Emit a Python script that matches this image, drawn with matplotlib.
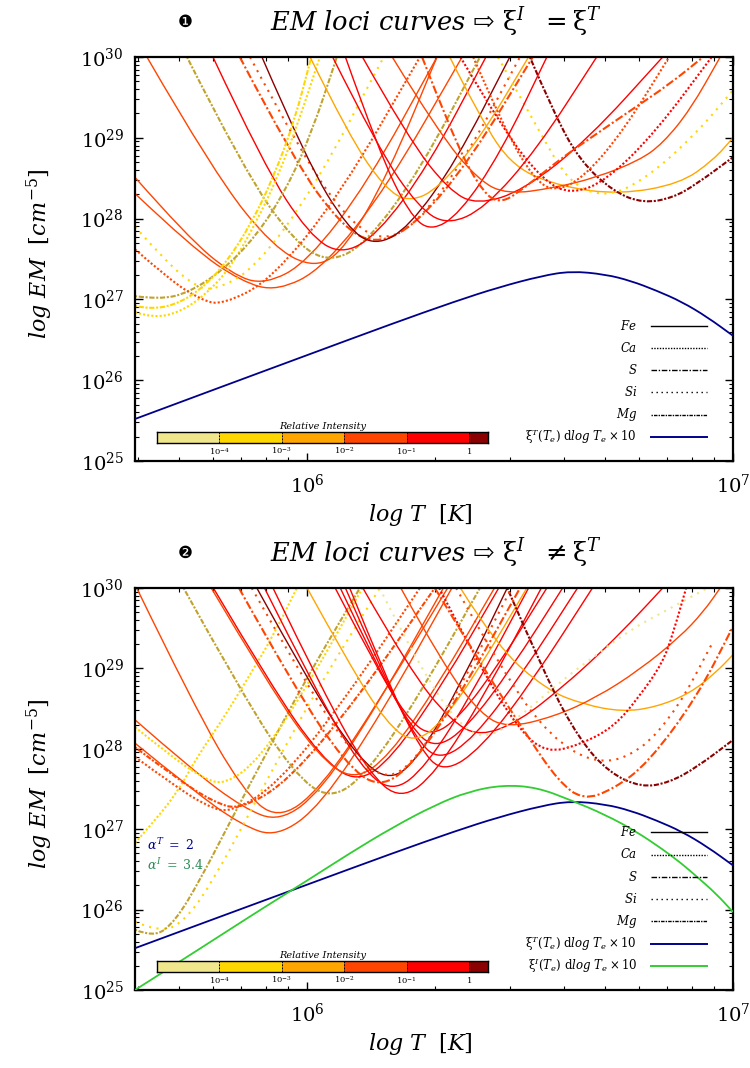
import matplotlib
matplotlib.use("Agg")
import matplotlib.pyplot as plt
import numpy as np
from matplotlib.patches import PathPatch
from matplotlib.path import Path
from matplotlib.ticker import LogLocator, NullFormatter

plt.rcParams["font.family"] = ["DejaVu Serif", "DejaVu Sans"]
plt.rcParams["mathtext.fontset"] = "dejavuserif"

# intensity bins of the colour bar (relative intensity), last extra colour = olive lines
bin_edges = [1e-5, 1e-4, 1e-3, 1e-2, 1e-1, 1.0, 2.0]
bin_colors = ["#F0E68C", "#FFD700", "#FFA500", "#FF4500", "#FF0000", "#8B0000", "#BFA32E"]
bin_labels = [r"$\mathit{10^{-4}}$", r"$\mathit{10^{-3}}$", r"$\mathit{10^{-2}}$",
              r"$\mathit{10^{-1}}$", r"$\mathit{1}$"]

elements = ["Fe", "Ca", "S", "Si", "Mg"]

# ---- panel 1: xi^I = xi^T  (log T, log EM, element, intensity bin)
top_logT = [
    [5.624, 5.782, 5.921, 6.02, 6.091, 6.191, 6.305],
    [5.596, 5.718, 5.824, 5.90, 6.001, 6.143, 6.305],
    [5.596, 5.73, 5.846, 5.93, 6.039, 6.19, 6.364],
    [5.718, 5.852, 5.97, 6.054, 6.142, 6.265, 6.406],
    [5.779, 5.899, 6.005, 6.08, 6.165, 6.284, 6.42],
    [5.842, 5.969, 6.081, 6.16, 6.253, 6.382, 6.53],
    [5.866, 5.992, 6.102, 6.18, 6.26, 6.372, 6.50],
    [5.894, 6.0, 6.094, 6.16, 6.239, 6.35, 6.476],
    [5.596, 5.64, 5.70, 5.76, 5.82, 5.88, 5.93, 5.98, 6.03],
    [5.596, 5.655, 5.72, 5.80, 5.88, 5.95, 6.01, 6.07],
    [5.596, 5.67, 5.734, 5.78, 5.88, 6.02, 6.18],
    [5.596, 5.678, 5.749, 5.80, 5.916, 6.079, 6.265],
    [5.596, 5.63, 5.69, 5.75, 5.81, 5.87, 5.92, 5.97, 6.01],
    [6.007, 6.10, 6.182, 6.24, 6.31, 6.408, 6.52],
    [6.335, 6.406, 6.484, 6.60, 6.734, 6.875, 6.953, 7.0],
    [6.523, 6.58, 6.64, 6.72, 6.79, 6.86, 6.915, 7.0],
    [6.448, 6.547, 6.617, 6.704, 6.80, 6.915, 7.0],
    [6.39, 6.466, 6.532, 6.58, 6.648, 6.742, 6.85],
    [6.13, 6.238, 6.333, 6.40, 6.509, 6.661, 6.835],
    [6.06, 6.168, 6.263, 6.33, 6.418, 6.54, 6.68],
    [6.09, 6.17, 6.24, 6.29, 6.358, 6.454, 6.563],
    [6.20, 6.308, 6.403, 6.47, 6.58, 6.68, 6.78, 6.835, 6.90, 6.97],
    [6.27, 6.34, 6.40, 6.45, 6.52, 6.60, 6.68, 6.76, 6.85, 6.93],
    [6.36, 6.464, 6.555, 6.62, 6.703, 6.818, 6.95],
]
top_logEM = [
    [30.0, 28.56, 27.64, 27.38, 27.64, 28.56, 30.0],
    [28.51, 27.78, 27.31, 27.18, 27.46, 28.45, 30.0],
    [28.31, 27.64, 27.22, 27.10, 27.39, 28.41, 30.0],
    [30.0, 28.6, 27.71, 27.45, 27.71, 28.6, 30.0],
    [30.0, 28.65, 27.8, 27.55, 27.8, 28.65, 30.0],
    [30.0, 28.72, 27.91, 27.68, 27.91, 28.72, 30.0],
    [30.0, 28.75, 27.95, 27.72, 27.95, 28.75, 30.0],
    [30.0, 28.71, 27.89, 27.66, 27.89, 28.71, 30.0],
    [26.84, 26.77, 26.84, 27.05, 27.39, 27.95, 28.5, 29.2, 30.0],
    [27.04, 27.0, 27.08, 27.35, 27.78, 28.35, 29.05, 30.0],
    [27.9, 27.46, 27.18, 27.1, 27.39, 28.41, 30.0],
    [27.62, 27.24, 27.0, 26.93, 27.24, 28.31, 30.0],
    [26.92, 26.88, 26.93, 27.12, 27.45, 27.95, 28.5, 29.2, 30.0],
    [30.0, 29.01, 28.38, 28.2, 28.38, 29.01, 30.0],
    [30.0, 29.25, 28.63, 28.39, 28.30, 28.43, 28.72, 29.0],
    [30.0, 29.3, 28.72, 28.33, 28.19, 28.26, 28.43, 28.76],
    [30.0, 29.06, 28.43, 28.26, 28.51, 29.06, 29.59],
    [30.0, 29.08, 28.5, 28.33, 28.5, 29.08, 30.0],
    [30.0, 28.99, 28.35, 28.17, 28.35, 28.99, 30.0],
    [30.0, 28.86, 28.13, 27.92, 28.13, 28.86, 30.0],
    [30.0, 28.81, 28.06, 27.84, 28.06, 28.81, 30.0],
    [30.0, 29.07, 28.47, 28.3, 28.38, 28.51, 28.72, 28.93, 29.35, 30.0],
    [30.0, 29.05, 28.42, 28.16, 28.42, 28.76, 29.05, 29.34, 29.66, 30.0],
    [30.0, 29.07, 28.47, 28.3, 28.47, 29.07, 30.0],
]
top_element = ["Fe", "Fe", "Fe", "Mg", "Fe", "S", "Si", "Fe", "Ca", "Mg", "Si", "Ca",
               "Mg", "Fe", "Fe", "Mg", "Si", "Ca", "Fe", "Fe", "Fe", "Fe", "S", "Ca"]
top_bin = [3, 3, 3, 6, 4, 3, 3, 5, 1, 6, 1, 3, 1, 2, 2, 5, 1, 3, 4, 4, 4, 3, 3, 4]

# ---- panel 2: xi^I != xi^T
bot_logT = [
    [5.60, 5.732, 5.848, 5.93, 6.03, 6.17, 6.33],
    [5.596, 5.732, 5.851, 5.936, 6.032, 6.166, 6.32],
    [5.596, 5.73, 5.846, 5.93, 6.033, 6.176, 6.34],
    [5.596, 5.65, 5.70, 5.742, 5.80, 5.859, 5.92, 5.976],
    [5.596, 5.66, 5.72, 5.78, 5.86, 5.94, 6.02, 6.10, 6.171],
    [5.596, 5.64, 5.69, 5.749, 5.82, 5.90, 5.97, 6.04, 6.124],
    [5.596, 5.68, 5.754, 5.807, 5.888, 6.001, 6.13],
    [5.596, 5.686, 5.764, 5.82, 5.931, 6.087, 6.265],
    [5.596, 5.694, 5.78, 5.842, 5.957, 6.117, 6.30],
    [5.71, 5.848, 5.968, 6.054, 6.142, 6.265, 6.406],
    [5.78, 5.915, 6.033, 6.117, 6.2, 6.317, 6.45],
    [5.775, 5.909, 6.026, 6.11, 6.193, 6.308, 6.44],
    [5.882, 6.007, 6.117, 6.195, 6.264, 6.36, 6.47],
    [5.90, 6.02, 6.125, 6.20, 6.28, 6.392, 6.52],
    [5.92, 6.04, 6.145, 6.22, 6.303, 6.418, 6.55],
    [6.066, 6.156, 6.234, 6.29, 6.358, 6.454, 6.563],
    [6.078, 6.167, 6.245, 6.30, 6.375, 6.48, 6.60],
    [6.09, 6.178, 6.255, 6.31, 6.391, 6.505, 6.635],
    [6.10, 6.188, 6.265, 6.32, 6.408, 6.53, 6.67],
    [6.0, 6.10, 6.187, 6.249, 6.316, 6.409, 6.516],
    [6.36, 6.446, 6.563, 6.65, 6.741, 6.82, 6.899, 6.96, 7.0],
    [6.22, 6.32, 6.408, 6.47, 6.58, 6.68, 6.78, 6.875, 6.93, 6.97],
    [6.131, 6.241, 6.337, 6.406, 6.50, 6.60, 6.68, 6.758, 6.835],
    [6.17, 6.27, 6.357, 6.42, 6.5, 6.6, 6.68, 6.758, 6.85, 6.94],
    [6.31, 6.41, 6.50, 6.563, 6.64, 6.72, 6.78, 6.835, 6.86, 6.89],
    [6.47, 6.563, 6.64, 6.71, 6.785, 6.85, 6.915, 7.0],
    [6.30, 6.406, 6.523, 6.59, 6.648, 6.72, 6.80, 6.915, 7.0],
    [6.35, 6.46, 6.57, 6.68, 6.78, 6.87, 6.95],
    [5.84, 5.972, 6.088, 6.17, 6.253, 6.368, 6.5],
    [5.87, 5.998, 6.11, 6.19, 6.263, 6.364, 6.48],
]
bot_logEM = [
    [30.0, 28.56, 27.49, 27.11, 27.49, 28.6, 30.0],
    [28.36, 27.73, 27.26, 27.09, 27.47, 28.55, 30.0],
    [28.07, 27.49, 27.05, 26.9, 27.3, 28.45, 30.0],
    [26.83, 27.15, 27.5, 27.9, 28.35, 28.86, 29.4, 30.0],
    [25.85, 25.70, 25.9, 26.37, 27.15, 27.95, 28.7, 29.4, 30.0],
    [25.75, 25.65, 25.85, 26.37, 27.1, 27.9, 28.6, 29.25, 30.0],
    [28.27, 27.91, 27.64, 27.55, 27.87, 28.78, 30.0],
    [27.9, 27.55, 27.29, 27.2, 27.56, 28.6, 30.0],
    [28.02, 27.63, 27.34, 27.24, 27.6, 28.62, 30.0],
    [30.0, 28.68, 27.7, 27.36, 27.7, 28.68, 30.0],
    [30.0, 28.79, 27.89, 27.57, 27.89, 28.79, 30.0],
    [30.0, 28.8, 27.91, 27.6, 27.91, 28.8, 30.0],
    [30.0, 28.8, 27.9, 27.59, 27.9, 28.8, 30.0],
    [30.0, 28.73, 27.78, 27.45, 27.78, 28.73, 30.0],
    [30.0, 28.68, 27.7, 27.36, 27.7, 28.68, 30.0],
    [30.0, 29.08, 28.39, 28.15, 28.39, 29.08, 30.0],
    [30.0, 29.0, 28.26, 28.0, 28.26, 29.0, 30.0],
    [30.0, 28.93, 28.13, 27.85, 28.13, 28.93, 30.0],
    [30.0, 28.85, 28.0, 27.7, 28.0, 28.85, 30.0],
    [30.0, 29.04, 28.32, 28.07, 28.32, 29.04, 30.0],
    [30.0, 29.27, 28.73, 28.55, 28.46, 28.52, 28.69, 28.95, 29.17],
    [30.0, 29.04, 28.43, 28.26, 28.4, 28.64, 28.98, 29.39, 29.7, 30.0],
    [30.0, 28.98, 28.35, 28.15, 28.35, 28.77, 29.15, 29.56, 30.0],
    [30.0, 28.96, 28.3, 28.11, 28.4, 28.86, 29.17, 29.48, 29.74, 30.0],
    [30.0, 28.98, 28.22, 27.95, 28.05, 28.27, 28.65, 29.07, 29.45, 30.0],
    [30.0, 28.86, 28.11, 27.7, 27.52, 27.58, 27.77, 28.11],
    [30.0, 29.07, 28.11, 27.6, 27.36, 27.5, 27.82, 28.64, 29.52],
    [30.0, 28.95, 28.15, 27.8, 27.95, 28.5, 29.3],
    [30.0, 28.75, 27.83, 27.5, 27.83, 28.75, 30.0],
    [30.0, 28.8, 27.91, 27.6, 27.91, 28.8, 30.0],
]
bot_element = ["Fe", "Fe", "Fe", "Ca", "Si", "Mg", "Ca", "Ca", "Mg", "Mg", "Fe", "Fe",
               "Fe", "Fe", "Fe", "Fe", "Fe", "Fe", "Fe", "Fe", "Fe", "Fe", "Fe", "Si",
               "Ca", "Mg", "S", "Si", "S", "Si"]
bot_bin = [3, 3, 3, 1, 1, 6, 1, 3, 3, 6, 4, 3, 5, 4, 4, 4, 4, 4, 4, 2, 2, 3, 4, 0,
           4, 5, 3, 3, 3, 3]

# ---- xi(T) dlogT x 10 curves
blue_logT = [5.596, 5.8, 6.0, 6.2, 6.35, 6.45, 6.55, 6.62, 6.70, 6.76, 6.82, 6.88, 6.94, 7.0]
blue_logEM = [25.52, 25.92, 26.31, 26.7, 26.98, 27.15, 27.29, 27.35, 27.31, 27.23, 27.11,
              26.97, 26.78, 26.55]
green_logT = [5.596, 5.7, 5.8, 5.9, 6.0, 6.1, 6.2, 6.3, 6.38, 6.46, 6.54, 6.62, 6.70,
              6.77, 6.835, 6.88, 6.915, 6.96, 7.0]
green_logEM = [25.0, 25.35, 25.69, 26.03, 26.36, 26.7, 27.02, 27.3, 27.47, 27.55, 27.52,
               27.36, 27.18, 26.98, 26.75, 26.57, 26.41, 26.2, 25.97]

linestyles = {"Fe": "-", "Ca": (0, (1, 1)), "S": (0, (4, 1.2, 1, 1.2)),
              "Si": (0, (1, 2.6)), "Mg": (0, (1, 0.8, 2.5, 0.8))}

BLUE = "#00008B"
GREEN = "#32CD32"

W, H = 750, 1068
fig = plt.figure(figsize=(W / 100, H / 100), dpi=100)


def fx(px):
    return px / W


def fy(py):
    return 1 - py / H


def draw_curve(ax, logT, logEM, **kw):
    # smooth quadratic-Bezier path through the read points (built in log space)
    pts = np.column_stack([logT, logEM])
    verts = [pts[0]]
    codes = [Path.MOVETO]
    for i in range(1, len(pts) - 1):
        verts += [pts[i], (pts[i] + pts[i + 1]) / 2]
        codes += [Path.CURVE3, Path.CURVE3]
    verts.append(pts[-1])
    codes.append(Path.LINETO)
    path = Path(10 ** np.array(verts), codes)
    ax.add_patch(PathPatch(path, fill=False, **kw))


panels = [
    dict(top=57, bottom=461, T=top_logT, EM=top_logEM, el=top_element, bins=top_bin,
         rel=r"$\mathrm{\xi}^{I}\ \ = \mathrm{\xi}^{T}$", num="\u2776", green=False),
    dict(top=588, bottom=990, T=bot_logT, EM=bot_logEM, el=bot_element, bins=bot_bin,
         rel=r"$\mathrm{\xi}^{I}\ \ \neq \mathrm{\xi}^{T}$", num="\u2777", green=True),
]

left_px, right_px = 135, 733
for p in panels:
    ax = fig.add_axes([fx(left_px), fy(p["bottom"]), fx(right_px - left_px),
                       (p["bottom"] - p["top"]) / H])
    ax.set_xscale("log")
    ax.set_yscale("log")
    for lt, le, el, b in zip(p["T"], p["EM"], p["el"], p["bins"]):
        draw_curve(ax, lt, le, edgecolor=bin_colors[b], linestyle=linestyles[el],
                   lw=1.0 if el == "Fe" else 1.5, zorder=2)
    draw_curve(ax, blue_logT, blue_logEM, edgecolor=BLUE, lw=1.3, zorder=3)
    if p["green"]:
        draw_curve(ax, green_logT, green_logEM, edgecolor=GREEN, lw=1.3, zorder=3)
        ax.text(0.02, 0.361, r"$\alpha^{T}\ =\ 2$", color=BLUE, fontsize=9,
                transform=ax.transAxes, va="center")
        ax.text(0.02, 0.311, r"$\alpha^{I}\ =\ 3.4$", color="#2E8B57", fontsize=9,
                transform=ax.transAxes, va="center")

    ax.set_xlim(10 ** 5.596, 1e7)
    ax.set_ylim(1e25, 1e30)
    ax.xaxis.set_minor_locator(LogLocator(base=10, subs=np.arange(2, 10), numticks=20))
    ax.yaxis.set_minor_locator(LogLocator(base=10, subs=np.arange(2, 10), numticks=20))
    ax.xaxis.set_minor_formatter(NullFormatter())
    ax.yaxis.set_minor_formatter(NullFormatter())
    ax.tick_params(which="both", direction="in", top=True, right=True, labelsize=14)
    ax.tick_params(which="major", length=6, width=1.0)
    ax.tick_params(which="minor", length=3, width=0.8)
    ax.tick_params(axis="x", pad=9)
    ax.tick_params(axis="y", pad=8)
    for s in ax.spines.values():
        s.set_linewidth(1.6)

    # legend, gnuplot style: label left of sample
    labels = [rf"${e}$" for e in elements] + \
        [r"$\mathrm{\xi}^{T}(T_e)\ \mathrm{d}log\ T_e \times 10$"]
    styles = [linestyles[e] for e in elements] + ["-"]
    colors = ["black"] * 5 + [BLUE]
    if p["green"]:
        labels.append(r"$\mathrm{\xi}^{I}(T_e)\ \mathrm{d}log\ T_e \times 10$")
        styles.append("-")
        colors.append(GREEN)
    n = len(labels)
    hgt = p["bottom"] - p["top"]
    for i, (lab, st, c) in enumerate(zip(labels, styles, colors)):
        ypx = p["bottom"] - 24 - (n - 1 - i) * 22.3
        ya = (p["bottom"] - ypx) / hgt
        ax.plot([0.863, 0.9565], [ya, ya], transform=ax.transAxes, color=c, ls=st,
                lw=1.0 if c == "black" else 1.4, zorder=5)
        ax.text(0.8395, ya, lab, transform=ax.transAxes, ha="right", va="center",
                fontsize=8.5, zorder=5)

    # relative intensity colour bar
    cax = fig.add_axes([fx(157), fy(p["bottom"] - 18), fx(331), 11 / H])
    for lo, hi, c in zip(bin_edges[:-1], bin_edges[1:], bin_colors):
        cax.axvspan(lo, hi, color=c, lw=0)
    cax.set_xscale("log")
    cax.set_xlim(bin_edges[0], bin_edges[-1])
    for b in bin_edges[1:-1]:
        cax.axvline(b, color="black", lw=0.7, ls=(0, (2, 1.2)))
    cax.set_yticks([])
    cax.set_xticks(bin_edges[1:-1])
    cax.set_xticklabels(bin_labels, fontsize=6)
    cax.xaxis.set_minor_locator(plt.NullLocator())
    cax.tick_params(axis="x", length=0, pad=2)
    for s in cax.spines.values():
        s.set_linewidth(1.0)
    cax.set_title("Relative Intensity", fontsize=7, style="italic", pad=2)

    # titles and axis labels
    ty = p["top"] - 35
    fig.text(fx(185), fy(ty), p["num"], fontsize=12, ha="center", va="center",
             family=["DejaVu Sans"])
    fig.text(fx(436), fy(ty), r"$EM\ loci\ curves$ " + "\u21e8 " + p["rel"],
             fontsize=18.5, ha="center", va="center")
    fig.text(fx(420), fy(p["bottom"] + 54), r"$log\ T\ \ [K]$", fontsize=16,
             ha="center", va="center")
    fig.text(fx(40), fy((p["top"] + p["bottom"]) / 2 - 5), r"$log\ EM\ \ [cm^{-5}]$",
             fontsize=16, rotation=90, ha="center", va="center")

fig.savefig("out.png", dpi=100)
